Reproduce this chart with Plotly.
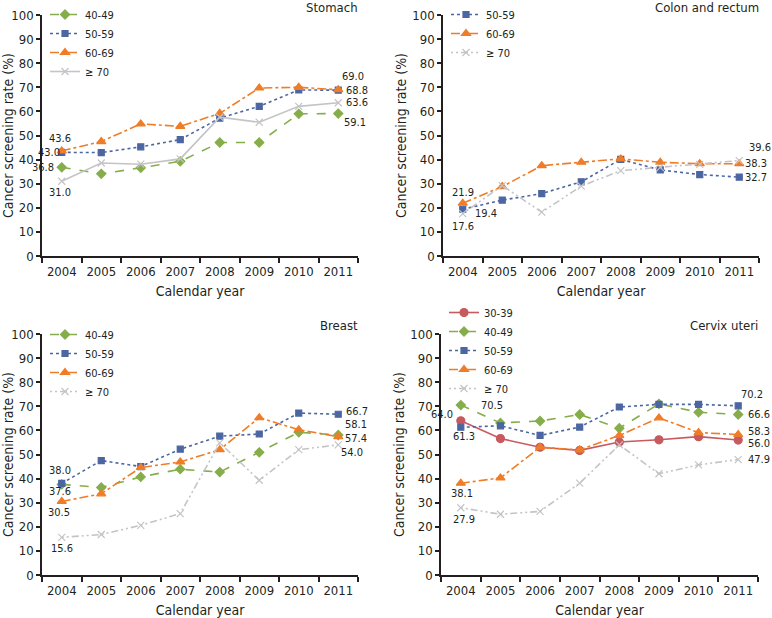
import plotly.graph_objects as go

W, H = 772, 618

years = ["2004", "2005", "2006", "2007", "2008", "2009", "2010", "2011"]

# Stomach
st_40 = [36.8, 34.1, 36.6, 39.3, 47.1, 47.1, 59.0, 59.1]
st_50 = [43.0, 42.9, 45.3, 48.3, 57.2, 62.1, 68.9, 68.8]
st_60 = [43.6, 47.5, 54.8, 53.8, 59.2, 69.7, 70.0, 69.0]
st_70 = [31.0, 38.6, 38.1, 40.3, 57.6, 55.5, 62.1, 63.6]

# Colon and rectum
co_50 = [19.4, 23.2, 25.9, 30.8, 40.1, 35.7, 33.8, 32.7]
co_60 = [21.9, 28.8, 37.5, 38.9, 40.3, 38.9, 38.3, 38.3]
co_70 = [17.6, 29.2, 18.2, 29.0, 35.4, 36.8, 38.0, 39.6]

# Breast
br_40 = [37.6, 36.3, 40.7, 43.9, 42.7, 50.9, 59.2, 58.1]
br_50 = [38.0, 47.5, 45.0, 52.2, 57.6, 58.5, 67.2, 66.7]
br_60 = [30.5, 33.7, 44.6, 46.9, 52.0, 65.3, 60.3, 57.4]
br_70 = [15.6, 16.8, 20.6, 25.5, 54.8, 39.3, 52.0, 54.0]

# Cervix uteri
cx_30 = [64.0, 56.6, 53.0, 51.7, 55.2, 56.1, 57.4, 56.0]
cx_40 = [70.5, 63.1, 63.9, 66.6, 60.9, 71.0, 67.5, 66.6]
cx_50 = [61.3, 61.9, 57.9, 61.4, 69.7, 70.8, 70.8, 70.2]
cx_60 = [38.1, 40.3, 53.0, 51.9, 57.9, 65.2, 59.1, 58.3]
cx_70 = [27.9, 25.2, 26.4, 38.1, 54.0, 42.0, 45.7, 47.9]

panel_titles = ["Stomach", "Colon and rectum", "Breast", "Cervix uteri"]

FONT = "Liberation Sans Narrow, DejaVu Sans Condensed, Liberation Sans, sans-serif"
INK = "#231f20"

styles = {
    "30-39": dict(color="#c75a5e", dash="solid", symbol="circle", size=8),
    "40-49": dict(color="#86ad4b", dash="dash", symbol="diamond", size=7),
    "50-59": dict(color="#4c66a2", dash="dot", symbol="square", size=6),
    "60-69": dict(color="#ef7d28", dash="dashdot", symbol="triangle-up", size=8),
    "≥ 70": dict(color="#c4c4c8", dash="2px,3px,2px,3px,7px,3px", symbol="x-thin-open", size=7),
}

panels = [
    [("40-49", st_40), ("50-59", st_50), ("60-69", st_60), ("≥ 70", st_70)],
    [("50-59", co_50), ("60-69", co_60), ("≥ 70", co_70)],
    [("40-49", br_40), ("50-59", br_50), ("60-69", br_60), ("≥ 70", br_70)],
    [("30-39", cx_30), ("40-49", cx_40), ("50-59", cx_50), ("60-69", cx_60), ("≥ 70", cx_70)],
]

# pixel boxes of each plot area: left, right, top, bottom
boxes = [(42, 358, 15, 256), (443, 759, 15, 256), (42, 358, 334, 575), (441, 758, 334, 575)]
# top pixel of each legend box
legend_tops = [0, 0, 320, 298]

# data labels: panel, series, year index, anchor, xshift, yshift
labels = [
    (0, "60-69", 0, "center", -2, 12),
    (0, "50-59", 0, "right", 0, 0),
    (0, "40-49", 0, "right", -6, 0),
    (0, "≥ 70", 0, "center", -2, -11),
    (0, "60-69", 7, "left", 2, 13),
    (0, "50-59", 7, "left", 6, 0),
    (0, "≥ 70", 7, "left", 6, 0),
    (0, "40-49", 7, "left", 4, -9),
    (1, "60-69", 0, "center", 0, 11),
    (1, "50-59", 0, "left", 10, -4),
    (1, "≥ 70", 0, "center", 0, -13),
    (1, "≥ 70", 7, "left", 8, 13),
    (1, "60-69", 7, "left", 4, 0),
    (1, "50-59", 7, "left", 4, 0),
    (2, "50-59", 0, "center", -2, 13),
    (2, "40-49", 0, "center", -2, -7),
    (2, "60-69", 0, "center", -3, -11),
    (2, "≥ 70", 0, "center", 0, -11),
    (2, "50-59", 7, "left", 6, 3),
    (2, "40-49", 7, "left", 5, 10),
    (2, "60-69", 7, "left", 5, -2),
    (2, "≥ 70", 7, "left", 1, -8),
    (3, "30-39", 0, "right", -6, 6),
    (3, "40-49", 0, "left", 18, 0),
    (3, "50-59", 0, "center", 3, -9),
    (3, "60-69", 0, "center", 1, -10),
    (3, "≥ 70", 0, "center", 3, -12),
    (3, "50-59", 7, "left", 1, 11),
    (3, "40-49", 7, "left", 8, 0),
    (3, "60-69", 7, "left", 8, 3),
    (3, "30-39", 7, "left", 8, -3),
    (3, "≥ 70", 7, "left", 8, 0),
]

fig = go.Figure()
layout = dict(
    width=W, height=H,
    margin=dict(l=0, r=0, t=0, b=0),
    paper_bgcolor="white", plot_bgcolor="white",
    font=dict(family=FONT, color=INK, size=13),
    annotations=[],
)

for p, series in enumerate(panels):
    k = "" if p == 0 else str(p + 1)
    leg = "legend" + k
    for name, vals in series:
        s = styles[name]
        fig.add_trace(go.Scatter(
            x=years, y=vals, name=name, mode="lines+markers",
            line=dict(color=s["color"], dash="solid" if (p == 0 and name == "≥ 70") else s["dash"], width=1.6),
            marker=dict(symbol=s["symbol"], size=s["size"], color=s["color"],
                        line=dict(width=1.2, color=s["color"])),
            xaxis="x" + k, yaxis="y" + k, legend=leg,
        ))
    l, r, t, b = boxes[p]
    layout["xaxis" + k] = dict(
        domain=[l / W, r / W], anchor="y" + k, type="category", automargin=False,
        range=[-0.5, 7.5], tickson="boundaries", ticks="outside", ticklen=5,
        tickcolor=INK, tickwidth=1.5, showline=True, linecolor=INK, linewidth=1.5,
        showgrid=False, zeroline=False, tickfont=dict(size=13), ticklabelstandoff=3,
        title=dict(text="Calendar year", font=dict(size=14), standoff=8),
    )
    layout["yaxis" + k] = dict(
        domain=[1 - b / H, 1 - t / H], anchor="x" + k, automargin=False,
        range=[0, 100], dtick=10, ticks="outside", ticklen=4,
        tickcolor=INK, tickwidth=1.5, showline=True, linecolor=INK, linewidth=1.5,
        showgrid=False, zeroline=False, tickfont=dict(size=13),
        title=dict(text="Cancer screening rate (%)", font=dict(size=14), standoff=2),
    )
    layout[leg] = dict(
        x=(l + 3) / W, y=1 - legend_tops[p] / H, xanchor="left", yanchor="top",
        bgcolor="rgba(0,0,0,0)", font=dict(size=11), itemwidth=30,
        tracegroupgap=0,
    )
    layout["annotations"].append(dict(
        text=panel_titles[p], xref="paper", yref="paper",
        x=(r + 2) / W, y=1 - (t - 8) / H, xanchor="right", yanchor="middle",
        showarrow=False, font=dict(size=13),
    ))

for p, name, i, anchor, dx, dy in labels:
    k = "" if p == 0 else str(p + 1)
    vals = dict(panels[p])[name]
    # category axes take the category index for annotations
    layout["annotations"].append(dict(
        text=f"{vals[i]:.1f}", x=i, y=vals[i], xref="x" + k, yref="y" + k,
        xanchor=anchor, yanchor="middle", xshift=dx, yshift=dy,
        showarrow=False, font=dict(size=11, color=INK),
    ))

fig.update_layout(**layout)
fig.write_html("out.html", config={"displayModeBar": False},
               post_script="document.body.style.margin = '0px';")
